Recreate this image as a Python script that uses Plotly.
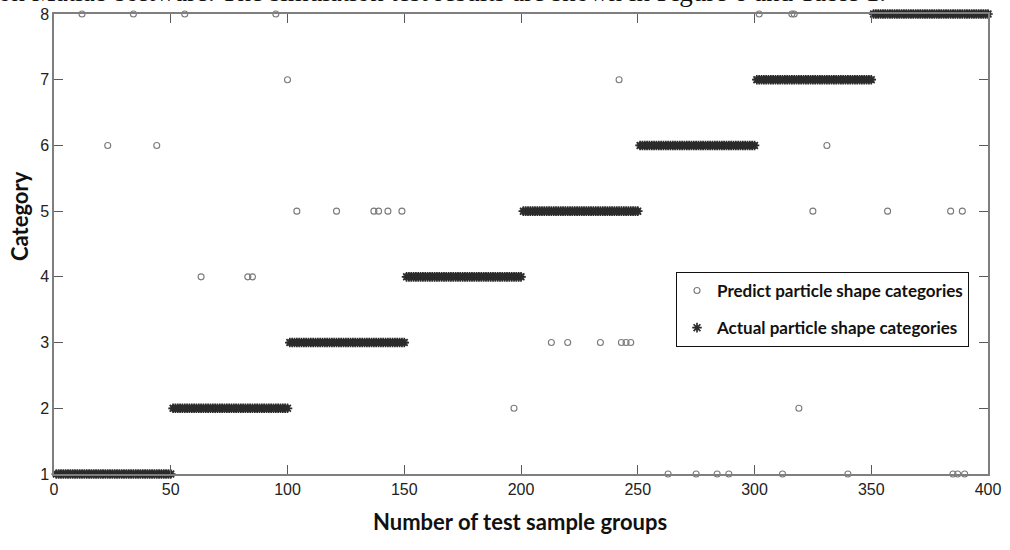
import plotly.graph_objects as go

# ---- data ----
n_samples = 400
group_size = 50
categories = [1, 2, 3, 4, 5, 6, 7, 8]
sample_index = list(range(1, n_samples + 1))
actual = [categories[(i - 1) // group_size] for i in sample_index]

# misclassified samples: (sample number, predicted category)
wrong_samples = [12, 34, 56, 95, 23, 44, 100, 104, 121, 137, 139, 143, 149,
                 63, 83, 85, 197, 213, 220, 234, 243, 245, 247, 242,
                 263, 275, 284, 289, 312, 340, 385, 387, 390,
                 302, 316, 317, 319, 325, 331, 357, 384, 389]
wrong_predicted = [8, 8, 8, 8, 6, 6, 7, 5, 5, 5, 5, 5, 5,
                   4, 4, 4, 2, 3, 3, 3, 3, 3, 3, 7,
                   1, 1, 1, 1, 1, 1, 1, 1, 1,
                   8, 8, 8, 2, 5, 6, 5, 5, 5]

predicted = list(actual)
for s, p in zip(wrong_samples, wrong_predicted):
    predicted[s - 1] = p

x_ticks = [0, 50, 100, 150, 200, 250, 300, 350, 400]
y_ticks = categories

fig = go.Figure()
fig.add_trace(go.Scatter(
    x=sample_index, y=predicted, mode="markers",
    name="<b>Predict particle shape categories</b>", legendgroup="p",
    marker=dict(symbol="circle-open", size=6, color="#7a7a7a",
                line=dict(width=1.1, color="#7a7a7a")),
    cliponaxis=False,
))
fig.add_trace(go.Scatter(
    x=sample_index, y=actual, mode="markers",
    name="<b>Actual particle shape categories</b>", legendgroup="a",
    marker=dict(symbol="asterisk-open", size=8, color="#2b2b2b",
                line=dict(width=1.7, color="#2b2b2b")),
    cliponaxis=False,
))

axis_common = dict(
    showgrid=False, zeroline=False, showline=True, linecolor="#7f7f7f",
    linewidth=1.5, mirror="ticks", ticks="inside", ticklen=9,
    tickwidth=1.2, tickcolor="#5a5a5a", automargin=False,
    tickfont=dict(family="Liberation Sans, Arial", size=16, color="#222222"),
)

fig.update_xaxes(range=[0, 400], tickvals=x_ticks, **axis_common)
fig.update_yaxes(range=[1, 8], tickvals=y_ticks, **axis_common)

PLOT_L, PLOT_T, PLOT_W, PLOT_H = 54, 14, 934, 460


def px_to_paper(px, py):
    return (px - PLOT_L) / PLOT_W, 1 - (py - PLOT_T) / PLOT_H


# axis titles
tx, ty = px_to_paper(520, 521)
fig.add_annotation(text="<b>Number of test sample groups</b>", xref="paper", yref="paper",
                   x=tx, y=ty, xanchor="center", yanchor="middle", showarrow=False,
                   font=dict(family="Lato", size=22, color="#111111"))
tx, ty = px_to_paper(19, 216)
fig.add_annotation(text="<b>Category</b>", xref="paper", yref="paper", textangle=-90,
                   x=tx, y=ty, xanchor="center", yanchor="middle", showarrow=False,
                   font=dict(family="Lato", size=22, color="#111111"))

# clipped body text from the page above the figure
fig.add_annotation(
    text="on Matlab software. The simulation test results are shown in Figure 6 and Table 1.",
    xref="paper", yref="paper", x=-58 / PLOT_W, y=1 + 5 / PLOT_H,
    xanchor="left", yanchor="bottom", showarrow=False,
    font=dict(family="Liberation Serif, Times New Roman", size=27, color="#111111"),
)

lx, ly = px_to_paper(676, 272)
fig.update_layout(
    width=1010, height=550,
    margin=dict(l=PLOT_L, r=1010 - PLOT_L - PLOT_W, t=PLOT_T, b=550 - PLOT_T - PLOT_H),
    paper_bgcolor="white", plot_bgcolor="white",
    showlegend=True,
    legend=dict(
        x=lx, y=ly, xanchor="left", yanchor="top",
        bgcolor="white", bordercolor="#111111", borderwidth=1,
        font=dict(family="Lato", size=17, color="#111111"),
        traceorder="grouped", tracegroupgap=12,
    ),
)

fig.write_html("out.html", config={"displayModeBar": False},
               post_script="document.body.style.margin='0';document.body.style.overflow='hidden';")
